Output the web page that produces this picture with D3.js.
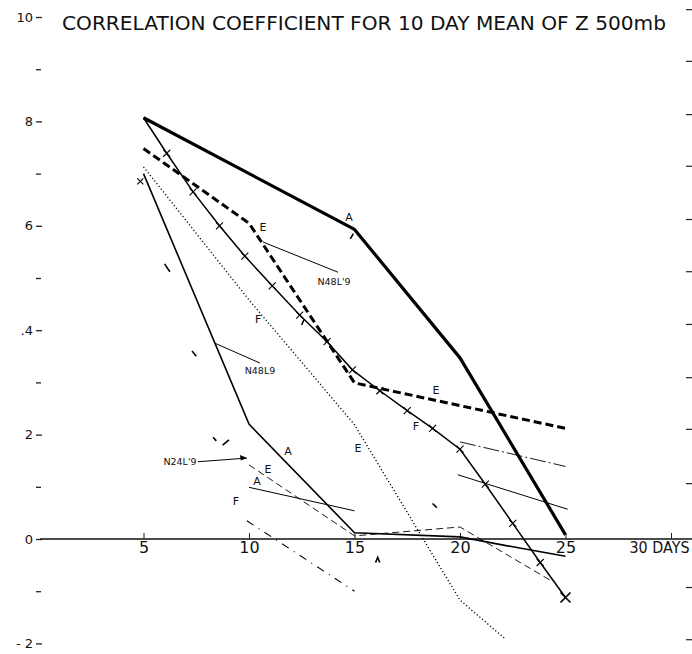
<!DOCTYPE html>
<html>
<head>
<meta charset="utf-8">
<script src="https://cdn.jsdelivr.net/npm/d3@7"></script>
<style>
  html, body { margin: 0; padding: 0; background: #fff; }
  svg { display: block; }
  text { font-family: "DejaVu Sans", "Liberation Sans", sans-serif; fill: #111; }
</style>
</head>
<body>
<svg id="chart" width="692" height="654"></svg>
<script>
// ---------- DATA (days, correlation x10) ----------
const chartTitle = "CORRELATION COEFFICIENT FOR 10 DAY MEAN OF Z 500mb";
const xTickValues = [5, 10, 15, 20, 25, 30];
const xTickLabels = ["5", "10", "15", "20", "25", "30 DAYS"];
const yMajorValues = [10, 8, 6, 4, 2, 0, -2];
const yMajorLabels = ["10", "8", "6", ".4", "2", "0", "- 2"];
const yMinorValues = [9, 7, 5, 3, 1, -1];
const rightTickValues = [10.15, 9.16, 8.14, 7.15, 6.13, 5.13, 4.12, 3.10, 2.11, 1.07, -0.92, -1.92];

// heavy solid "A"
const seriesA = [[5, 8.07], [15, 5.93], [20, 3.47], [25, 0.08]];
// heavy dashed "E"
const seriesE = [[5, 7.48], [10, 6.05], [15, 2.99], [25, 2.12]];
// solid with crosses "F"
const seriesF = [[5, 8.07], [6.1, 7.39], [7.35, 6.65], [8.6, 6.0], [9.8, 5.42], [11.1, 4.85],
  [12.4, 4.29], [13.7, 3.78], [14.9, 3.24], [16.2, 2.84], [17.5, 2.46], [18.7, 2.12],
  [20, 1.72], [21.2, 1.05], [22.5, 0.30], [23.8, -0.45], [25, -1.12]];
// dotted "E"
const seriesDotted = [[5, 7.13], [10, 4.58], [15, 2.19], [20, -1.17], [22.1, -1.90]];
// thin solid "A"
const seriesAthin = [[5, 7.0], [10, 2.2], [15, 0.12], [20, 0.04], [22.5, -0.15], [25, -0.33]];
// thin dashed "E"
const seriesEthin = [[10, 1.42], [15, 0.06], [20, 0.23], [24.4, -0.82]];
// short thin solid "A" (10-15)
const seriesAshort = [[10, 0.99], [15, 0.54]];
// dash-dot "F" (10-15)
const seriesFshort = [[9.9, 0.35], [15, -1.0]];
// 20-25 segments
const seriesLate1 = [[20, 1.86], [25, 1.39]];
const seriesLate2 = [[19.9, 1.23], [25.1, 0.57]];

// curve letters
const curveLabels = [
  {t: "A", d: 14.74, v: 6.15}, {t: "E", d: 10.66, v: 5.96}, {t: "E", d: 18.86, v: 2.84},
  {t: "F", d: 17.91, v: 2.15}, {t: "F", d: 10.43, v: 4.20}, {t: "E", d: 15.17, v: 1.72},
  {t: "A", d: 11.85, v: 1.67}, {t: "E", d: 10.9, v: 1.32}, {t: "A", d: 10.38, v: 1.09},
  {t: "F", d: 9.38, v: 0.71}
];
// annotations with leader lines
const notes = [
  {t: "N48L'9", d: 14.03, v: 4.92, from: [14.22, 5.11], to: [10.66, 5.69], arrow: false},
  {t: "N48L9", d: 10.52, v: 3.20, from: [10.52, 3.37], to: [8.39, 3.75], arrow: false},
  {t: "N24L'9", d: 6.73, v: 1.46, from: [7.58, 1.48], to: [9.9, 1.55], arrow: true}
];
// small stray marks on the plate
const strayMarks = [
  [[6.0, 5.27], [6.25, 5.12]], [[7.3, 3.6], [7.5, 3.5]], [[14.8, 5.75], [14.95, 5.85]],
  [[18.7, 0.68], [18.9, 0.6]], [[8.3, 1.95], [8.45, 1.88]], [[8.75, 1.8], [9.05, 1.9]],
  [[12.5, 4.1], [12.6, 4.2]], [[16.0, -0.45], [16.1, -0.35], [16.2, -0.45]]
];

// ---------- SCALES ----------
const svg = d3.select("#chart");
svg.append("rect").attr("width", 692).attr("height", 654).attr("fill", "#fff");
const x = d3.scaleLinear().domain([0, 30]).range([38, 671]);
const y = d3.scaleLinear().domain([-2, 10]).range([643.4, 17]);
const line = d3.line().x(d => x(d[0])).y(d => y(d[1]));

// title
svg.append("text").attr("x", 62).attr("y", 30)
  .attr("textLength", 604).attr("lengthAdjust", "spacingAndGlyphs")
  .style("font-size", "19px").text(chartTitle);

// y axis (left)
const yAxisMajor = d3.axisLeft(y).tickValues(yMajorValues)
  .tickFormat((d, i) => yMajorLabels[i]).tickSize(6).tickPadding(3);
const gy = svg.append("g").attr("transform", `translate(${42},0)`).call(yAxisMajor);
gy.select(".domain").remove();
gy.selectAll("text").style("font-size", "13px").style("font-family", "DejaVu Sans, sans-serif").attr("fill", "#111");
gy.selectAll("line").attr("stroke", "#222").attr("stroke-width", 1.3);
const yAxisMinor = d3.axisLeft(y).tickValues(yMinorValues).tickFormat("").tickSize(5);
const gy2 = svg.append("g").attr("transform", `translate(${41},0)`).call(yAxisMinor);
gy2.select(".domain").remove();
gy2.selectAll("line").attr("stroke", "#222").attr("stroke-width", 1.3);

// right edge ticks
const yAxisRight = d3.axisLeft(y).tickValues(rightTickValues).tickFormat("").tickSize(6);
const gr = svg.append("g").attr("transform", `translate(${692},0)`).call(yAxisRight);
gr.select(".domain").remove();
gr.selectAll("line").attr("stroke", "#222").attr("stroke-width", 1.2);

// x axis
svg.append("line").attr("x1", x(0.1)).attr("x2", x(31)).attr("y1", y(0)).attr("y2", y(0))
  .attr("stroke", "#111").attr("stroke-width", 1.6);
const xAxis = d3.axisBottom(x).tickValues(xTickValues)
  .tickFormat((d, i) => xTickLabels[i]).tickSizeInner(-6).tickSizeOuter(0).tickPadding(3);
const gx = svg.append("g").attr("transform", `translate(0,${y(0)})`).call(xAxis);
gx.select(".domain").remove();
gx.selectAll("line").attr("stroke", "#222").attr("stroke-width", 1);
gx.selectAll("text").style("font-size", "16px").style("font-family", "DejaVu Sans, sans-serif").attr("fill", "#111");
gx.selectAll(".tick").filter(d => d === 30).select("text")
  .attr("text-anchor", "start").attr("x", -42)
  .attr("textLength", 60).attr("lengthAdjust", "spacingAndGlyphs")
  .style("font-size", "15px");

// ---------- SERIES ----------
const plot = svg.append("g").attr("fill", "none").attr("stroke", "#000");
plot.append("path").datum(seriesA).attr("d", line).attr("stroke-width", 3.2).attr("stroke-linejoin", "round");
plot.append("path").datum(seriesE).attr("d", line).attr("stroke-width", 3)
  .attr("stroke-dasharray", "8,4");
plot.append("path").datum(seriesF).attr("d", line).attr("stroke-width", 1.5);
plot.append("path").datum(seriesDotted).attr("d", line).attr("stroke-width", 1.3)
  .attr("stroke-dasharray", "1.2,2.3");
plot.append("path").datum(seriesAthin).attr("d", line).attr("stroke-width", 1.6);
plot.append("path").datum(seriesEthin).attr("d", line).attr("stroke-width", 0.9)
  .attr("stroke-dasharray", "7,4");
plot.append("path").datum(seriesAshort).attr("d", line).attr("stroke-width", 1);
plot.append("path").datum(seriesFshort).attr("d", line).attr("stroke-width", 1.1)
  .attr("stroke-dasharray", "8,6,1,6");
plot.append("path").datum(seriesLate1).attr("d", line).attr("stroke-width", 0.9)
  .attr("stroke-dasharray", "16,3,2,3");
plot.append("path").datum(seriesLate2).attr("d", line).attr("stroke-width", 1);

// crosses on F
const crossG = svg.append("g").attr("stroke", "#000").attr("stroke-width", 1.1);
seriesF.slice(1).forEach((p, i, arr) => {
  const s = i === arr.length - 1 ? 5 : 3.5;
  const cx = x(p[0]), cy = y(p[1]);
  crossG.append("path").attr("d", `M${cx - s},${cy - s}L${cx + s},${cy + s}M${cx - s},${cy + s}L${cx + s},${cy - s}`)
    .attr("stroke-width", i === arr.length - 1 ? 1.6 : 1.1);
});
// small cross at start of thin A
crossG.append("path").datum([4.85, 6.85])
  .attr("d", d => { const cx = x(d[0]), cy = y(d[1]); return `M${cx - 3},${cy - 3}L${cx + 3},${cy + 3}M${cx - 3},${cy + 3}L${cx + 3},${cy - 3}`; });

// curve letters
svg.append("g").selectAll("text").data(curveLabels).join("text")
  .attr("x", d => x(d.d)).attr("y", d => y(d.v)).attr("text-anchor", "middle")
  .attr("dominant-baseline", "middle").style("font-size", "11px").text(d => d.t);

// annotations
const ng = svg.append("g");
notes.forEach(n => {
  ng.append("line").attr("x1", x(n.from[0])).attr("y1", y(n.from[1]))
    .attr("x2", x(n.to[0])).attr("y2", y(n.to[1])).attr("stroke", "#000").attr("stroke-width", 1);
  ng.append("text").attr("x", x(n.d)).attr("y", y(n.v)).attr("text-anchor", "middle")
    .attr("dominant-baseline", "middle").style("font-size", "9.5px").text(n.t);
  if (n.arrow) {
    const ex = x(n.to[0]), ey = y(n.to[1]);
    ng.append("path").attr("d", `M${ex},${ey}L${ex - 7},${ey - 3}L${ex - 6},${ey + 2.5}Z`).attr("fill", "#000");
  }
});

// stray marks
svg.append("g").selectAll("path").data(strayMarks).join("path")
  .attr("d", line).attr("fill", "none").attr("stroke", "#000").attr("stroke-width", 1.6);
</script>
</body>
</html>
